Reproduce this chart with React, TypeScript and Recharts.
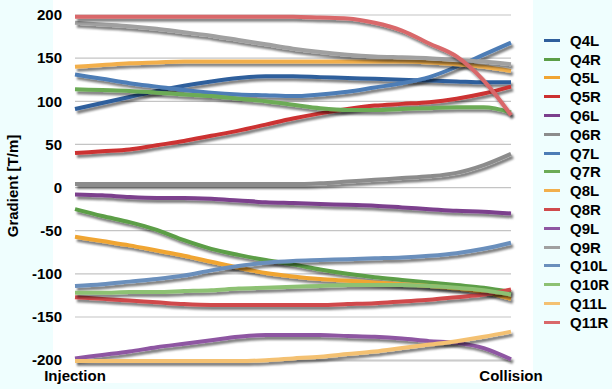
import { LineChart, Line, XAxis, YAxis, CartesianGrid } from "recharts";

// 17 optics steps between injection and collision
const steps = [0, 1, 2, 3, 4, 5, 6, 7, 8, 9, 10, 11, 12, 13, 14, 15, 16];
const xTicks = [0, 16];
const tickLabels: Record<number, string> = { 0: "Injection", 16: "Collision" };
const yTicks = [-200, -150, -100, -50, 0, 50, 100, 150, 200];

const seriesNames = ["Q4L", "Q4R", "Q5L", "Q5R", "Q6L", "Q6R", "Q7L", "Q7R", "Q8L", "Q8R", "Q9L", "Q9R", "Q10L", "Q10R", "Q11L", "Q11R"];
const seriesColors = ["#2f5f9c", "#5b9e46", "#f0a533", "#cc3030", "#7b3f8d", "#8c8c8c", "#4d7db6", "#6cab56", "#f2af4c", "#d04a4c", "#8e56a2", "#a0a0a0", "#6a8fbc", "#8dc173", "#f4c172", "#d9686a"];

const Q4L = [91, 98, 105, 112, 118, 123, 127, 129, 129, 128, 127, 126, 125, 124, 123, 122, 122];
const Q4R = [-25, -33, -40, -49, -61, -71, -78, -84, -89, -95, -100, -104, -107, -110, -113, -116, -121];
const Q5L = [-57, -62, -67, -73, -79, -86, -93, -99, -103, -106, -108, -110, -112, -114, -117, -121, -129];
const Q5R = [40, 42, 44, 49, 54, 60, 66, 73, 80, 86, 91, 95, 97, 99, 103, 109, 117];
const Q6L = [-8, -9, -11, -12, -12, -13, -15, -17, -18, -19, -20, -21, -23, -25, -27, -28, -30];
const Q6R = [4, 4, 4, 4, 4, 4, 4, 4, 4, 5, 7, 9, 11, 13, 17, 26, 39];
const Q7L = [131, 126, 121, 117, 113, 110, 108, 107, 106, 108, 111, 116, 121, 128, 140, 154, 168];
const Q7R = [114, 113, 112, 110, 108, 106, 103, 100, 96, 92, 90, 90, 91, 92, 93, 93, 87];
const Q8L = [140, 142, 144, 145, 146, 146, 146, 146, 146, 146, 146, 146, 146, 145, 143, 140, 135];
const Q8R = [-127, -129, -131, -133, -135, -136, -136, -136, -136, -136, -135, -134, -132, -130, -127, -124, -118];
const Q9L = [-198, -194, -190, -185, -181, -177, -173, -171, -171, -171, -172, -173, -175, -178, -180, -186, -199];
const Q9R = [191, 189, 187, 184, 180, 176, 171, 166, 161, 157, 154, 152, 151, 150, 148, 146, 143];
const Q10L = [-114, -112, -109, -106, -102, -96, -91, -87, -85, -84, -83, -82, -81, -79, -76, -71, -64];
const Q10R = [-122, -122, -121, -121, -120, -119, -117, -116, -115, -114, -113, -113, -113, -114, -116, -119, -124];
const Q11L = [-201, -201, -201, -201, -201, -201, -201, -200, -198, -196, -193, -190, -186, -182, -178, -173, -167];
const Q11R = [198, 198, 198, 198, 198, 198, 198, 198, 198, 197, 196, 191, 182, 167, 152, 124, 84];

const seriesValues = [Q4L, Q4R, Q5L, Q5R, Q6L, Q6R, Q7L, Q7R, Q8L, Q8R, Q9L, Q9R, Q10L, Q10R, Q11L, Q11R];

const data = steps.map((step, i) => {
  const row: Record<string, number> = { step };
  seriesNames.forEach((name, s) => {
    row[name] = seriesValues[s][i];
  });
  return row;
});

const font = '"Liberation Sans", Arial, Helvetica, sans-serif';

const LegendList = () => (
  <div style={{ position: "absolute", left: 544, top: 31, fontFamily: font, fontWeight: "bold", fontSize: 15, color: "#000" }}>
    {seriesNames.map((name, i) => (
      <div key={name} style={{ display: "flex", alignItems: "center", height: 18.8 }}>
        <span style={{ display: "inline-block", width: 16, height: 3, background: seriesColors[i], marginRight: 10 }} />
        <span>{name}</span>
      </div>
    ))}
  </div>
);

const XTick = (props: any) => {
  const { x, y, payload } = props;
  return (
    <text x={x} y={y + 12} textAnchor="middle" fontFamily={font} fontWeight="bold" fontSize={15} fill="#000">
      {tickLabels[payload.value] ?? ""}
    </text>
  );
};

export default function App() {
  return (
    <div style={{ position: "absolute", left: 0, top: 0, width: 612, height: 389, background: "#effefe", overflow: "hidden" }}>
      {/* shadow filter shared by all line curves */}
      <svg width={0} height={0} style={{ position: "absolute" }}>
        <defs>
          <filter id="lineShadow" filterUnits="userSpaceOnUse" x="0" y="0" width="612" height="389">
            <feGaussianBlur in="SourceAlpha" stdDeviation="1.3" />
            <feOffset dx="2" dy="3" result="blur" />
            <feFlood floodColor="#000" floodOpacity="0.5" />
            <feComposite in2="blur" operator="in" />
            <feMerge>
              <feMergeNode />
              <feMergeNode in="SourceGraphic" />
            </feMerge>
          </filter>
        </defs>
      </svg>
      <style>{`.recharts-line-curve { filter: url(#lineShadow); }`}</style>
      <div style={{ position: "absolute", left: 53, top: 0, width: 480, height: 383, background: "#ffffff" }} />
      <div
        style={{
          position: "absolute",
          left: 12,
          top: 186,
          transform: "translate(-50%, -50%) rotate(-90deg)",
          fontFamily: font,
          fontWeight: "bold",
          fontSize: 15,
          whiteSpace: "nowrap",
          color: "#000",
        }}
      >
        Gradient [T/m]
      </div>
      <div style={{ position: "absolute", left: 0, top: 0 }}>
        <LineChart width={612} height={389} data={data} margin={{ top: 15, right: 101, bottom: 0, left: 0 }}>
          <CartesianGrid vertical={false} stroke="#c4c4c4" strokeWidth={1.2} />
          <XAxis
            dataKey="step"
            ticks={xTicks}
            interval={0}
            height={28}
            axisLine={false}
            tickLine={false}
            tick={<XTick />}
          />
          <YAxis
            domain={[-200, 200]}
            ticks={yTicks}
            width={75}
            axisLine={false}
            tickLine={false}
            tickMargin={7}
            tick={{ fontFamily: font, fontWeight: "bold", fontSize: 15, fill: "#000" }}
          />
          {seriesNames.map((name, i) => (
            <Line
              key={name}
              type="monotone"
              dataKey={name}
              stroke={seriesColors[i]}
              strokeWidth={4}
              dot={false}
              activeDot={false}
              isAnimationActive={false}
            />
          ))}
        </LineChart>
      </div>
      <LegendList />
    </div>
  );
}
